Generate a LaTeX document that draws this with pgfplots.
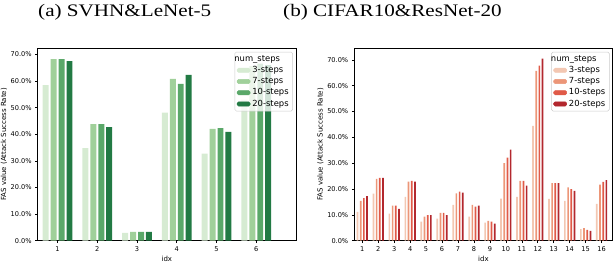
\documentclass[border=0pt]{standalone}
\usepackage{fontspec}
\setmainfont{DejaVu Sans}
\newfontfamily\titlefont{Liberation Serif}
\usepackage{graphicx}
\usepackage{pgfplots}
\usepackage{pgfplotstable}
\pgfplotsset{compat=1.18}

\definecolor{g1}{HTML}{D6EBD2}
\definecolor{g2}{HTML}{A0D09A}
\definecolor{g3}{HTML}{5AA869}
\definecolor{g4}{HTML}{227A44}
\definecolor{r1}{HTML}{F3C7B2}
\definecolor{r2}{HTML}{EC9678}
\definecolor{r3}{HTML}{E05A48}
\definecolor{r4}{HTML}{B3282E}

\pgfplotstableread{
idx s3 s7 s10 s20
1 58.5 68.2 68.2 67.5
2 34.8 43.8 43.8 42.7
3 2.9 3.3 3.3 3.3
4 48.1 60.8 58.9 62.3
5 32.7 42.0 42.3 40.9
6 53.0 65.6 66.5 66.0
}\svhn

\pgfplotstableread{
idx s3 s7 s10 s20
1 11.2 15.4 16.5 17.3
2 18.2 23.9 24.3 24.3
3 10.5 13.6 13.6 12.3
4 17.0 22.9 23.2 22.9
5 7.4 9.3 9.9 9.9
6 8.5 10.8 10.8 9.9
7 13.9 18.3 19.0 18.6
8 9.3 13.9 13.2 13.6
9 7.0 7.7 7.4 6.6
10 16.3 30.0 32.2 35.3
11 17.0 23.2 23.2 21.3
12 44.5 65.8 67.8 70.5
13 16.2 22.3 22.3 22.3
14 15.4 20.6 20.0 19.3
15 4.5 4.9 4.2 3.8
16 14.3 21.7 22.8 23.5
}\cifar

\newcommand\tickfont{\fontsize{6.6}{7.5}\selectfont}
\newcommand\labfont{\fontsize{7}{8}\selectfont}
\newcommand\legfont{\fontsize{8.4}{10}\selectfont}

\pgfplotsset{
  fasaxis/.style={
    scale only axis, width=258.3pt, height=192.4pt, ymin=0,
    axis line style={line width=0.6pt, black},
    tick align=outside, tick pos=left,
    major tick length=2.5pt,
    every tick/.style={black, line width=0.6pt},
    ytick={0,10,...,70},
    yticklabel={\pgfmathprintnumber[fixed,fixed zerofill,precision=1]{\tick}\%},
    /pgf/number format/assume math mode=true,
    xticklabel style={font=\tickfont},
    yticklabel style={font=\tickfont},
    xlabel={\labfont idx}, ylabel={\labfont FAS value (Attack Success Rate)},
    every axis y label/.style={at={(axis description cs:-0.131,0.5)},rotate=90,anchor=center,font=\labfont},
    every axis x label/.style={at={(axis description cs:0.5,-0.095)},anchor=center,font=\labfont},
    legend cell align=left,
    legend style={at={(rel axis cs:0.988,0.982)}, anchor=north east,
      draw=black!20, line width=0.5pt, rounded corners=1.5pt,
      fill=white, fill opacity=0.8, text opacity=1,
      font=\legfont, inner xsep=2pt, inner ysep=1.5pt,
      row sep=0pt, column sep=0pt,
      nodes={inner xsep=2pt, inner ysep=1.5pt, text height=6.3pt, text depth=1.9pt, font=\legfont}},
  },
}

\begin{document}
\begin{tikzpicture}
\path[use as bounding box] (0,0) rectangle (614pt,264pt);

\begin{axis}[fasaxis, at={(37.7pt,23.3pt)}, anchor=south west,
  xmin=0.5, xmax=7.0, ymax=72.3, xtick={1,...,6}]
  \addplot[ybar, bar width=0.15, bar shift=-0.3, fill=g1, draw=none, forget plot] table[x=idx,y=s3]{\svhn};
  \addplot[ybar, bar width=0.15, bar shift=-0.1, fill=g2, draw=none, forget plot] table[x=idx,y=s7]{\svhn};
  \addplot[ybar, bar width=0.15, bar shift=0.1, fill=g3, draw=none, forget plot] table[x=idx,y=s10]{\svhn};
  \addplot[ybar, bar width=0.15, bar shift=0.3, fill=g4, draw=none, forget plot] table[x=idx,y=s20]{\svhn};
  \addlegendimage{empty legend}\addlegendentry{\hspace*{-18pt}num\_steps}
  \addlegendimage{legend image code/.code={\fill[g1,fill opacity=1] (0pt,-2.15pt) rectangle (13pt,2.15pt);}}\addlegendentry{3-steps}
  \addlegendimage{legend image code/.code={\fill[g2,fill opacity=1] (0pt,-2.15pt) rectangle (13pt,2.15pt);}}\addlegendentry{7-steps}
  \addlegendimage{legend image code/.code={\fill[g3,fill opacity=1] (0pt,-2.15pt) rectangle (13pt,2.15pt);}}\addlegendentry{10-steps}
  \addlegendimage{legend image code/.code={\fill[g4,fill opacity=1] (0pt,-2.15pt) rectangle (13pt,2.15pt);}}\addlegendentry{20-steps}
\end{axis}

\begin{axis}[fasaxis, at={(354.3pt,23.3pt)}, anchor=south west,
  xmin=0.5, xmax=16.69, ymax=74.5, xtick={1,...,16}]
  \addplot[ybar, bar width=0.105, bar shift=-0.3, fill=r1, draw=none, forget plot] table[x=idx,y=s3]{\cifar};
  \addplot[ybar, bar width=0.105, bar shift=-0.1, fill=r2, draw=none, forget plot] table[x=idx,y=s7]{\cifar};
  \addplot[ybar, bar width=0.105, bar shift=0.1, fill=r3, draw=none, forget plot] table[x=idx,y=s10]{\cifar};
  \addplot[ybar, bar width=0.105, bar shift=0.3, fill=r4, draw=none, forget plot] table[x=idx,y=s20]{\cifar};
  \addlegendimage{empty legend}\addlegendentry{\hspace*{-18pt}num\_steps}
  \addlegendimage{legend image code/.code={\fill[r1,fill opacity=1] (0pt,-2.15pt) rectangle (13pt,2.15pt);}}\addlegendentry{3-steps}
  \addlegendimage{legend image code/.code={\fill[r2,fill opacity=1] (0pt,-2.15pt) rectangle (13pt,2.15pt);}}\addlegendentry{7-steps}
  \addlegendimage{legend image code/.code={\fill[r3,fill opacity=1] (0pt,-2.15pt) rectangle (13pt,2.15pt);}}\addlegendentry{10-steps}
  \addlegendimage{legend image code/.code={\fill[r4,fill opacity=1] (0pt,-2.15pt) rectangle (13pt,2.15pt);}}\addlegendentry{20-steps}
\end{axis}

\node[anchor=base west, inner sep=0pt, xscale=1.2, transform shape] at (38pt,247.3pt)
  {\fontsize{17.6}{20}\selectfont\titlefont (a) SVHN\&LeNet-5};
\node[anchor=base west, inner sep=0pt, xscale=1.2, transform shape] at (283pt,247.3pt)
  {\fontsize{17.6}{20}\selectfont\titlefont (b) CIFAR10\&ResNet-20};
\end{tikzpicture}
\end{document}
